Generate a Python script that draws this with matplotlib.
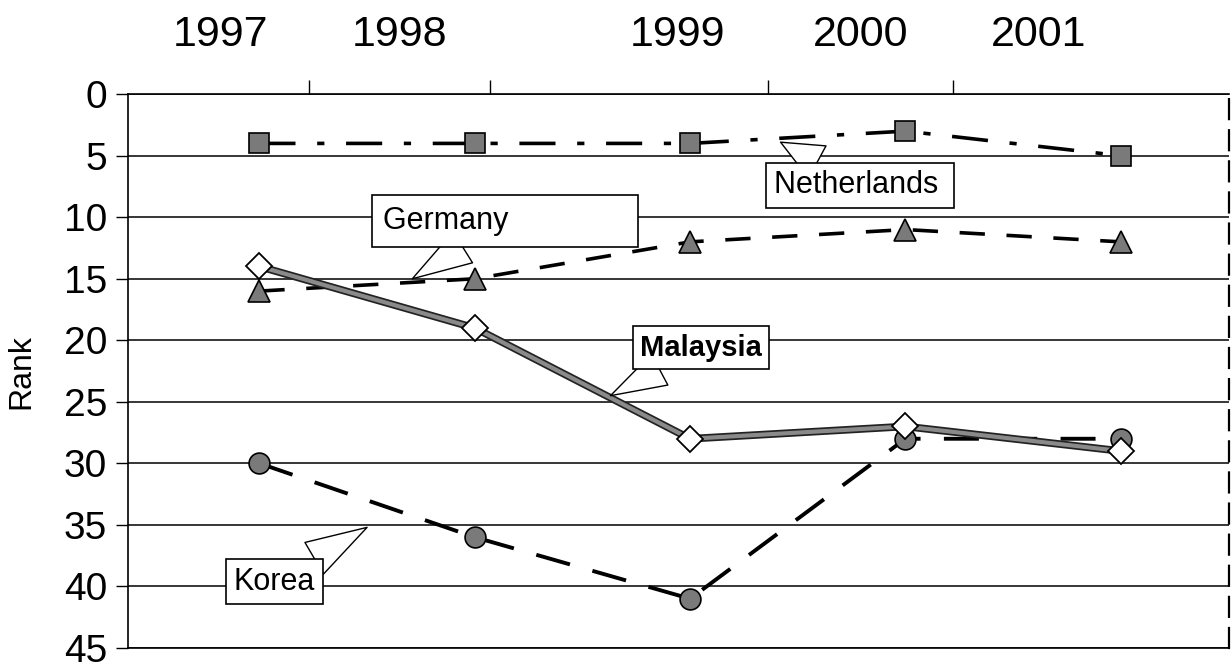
import matplotlib.pyplot as plt
import matplotlib.patheffects as pe
import numpy as np

plt.rcParams['font.family'] = ['Liberation Sans', 'DejaVu Sans']

years = ['1997', '1998', '1999', '2000', '2001']
netherlands = [4, 4, 4, 3, 5]
germany = [16, 15, 12, 11, 12]
malaysia = [14, 19, 28, 27, 29]
korea = [30, 36, 41, 28, 28]

# where the year labels and top ticks sit (they are not centred on the points)
year_label_x = [-0.18, 0.65, 1.94, 2.79, 3.62]
top_tick_x = [0.23, 1.07, 2.36, 3.22]

fig = plt.figure(figsize=(12.31, 6.68), dpi=100)
ax = fig.add_axes([0.104, 0.03, 0.894, 0.829])

x = np.arange(len(years))
mfill = '#7a7a7a'

ax.plot(x, netherlands, color='black', lw=2.6, dashes=(10, 6, 2, 6),
        marker='s', ms=15, mfc=mfill, mec='black', mew=1.2, zorder=4)
ax.plot(x, germany, color='black', lw=2.6, dashes=(7, 6),
        marker='^', ms=16, mfc=mfill, mec='black', mew=1.2, zorder=4)
ax.plot(x, korea, color='black', lw=2.8, dashes=(9, 6),
        marker='o', ms=15, mfc=mfill, mec='black', mew=1.2, zorder=4)
ax.plot(x, malaysia, color='#8a8a8a', lw=3,
        path_effects=[pe.Stroke(linewidth=5.5, foreground='#222222'), pe.Normal()],
        zorder=5)
ax.plot(x, malaysia, ls='none', marker='D', ms=13, mfc='white', mec='black',
        mew=1.3, zorder=6)

ax.set_ylim(45, 0)
ax.set_xlim(-0.61, 4.5)
ax.set_yticks(np.arange(0, 46, 5))
ax.tick_params(axis='y', labelsize=28, length=9, width=1, pad=6, direction='out')
ax.yaxis.grid(True, color='black', lw=1.1)
ax.set_axisbelow(True)
ax.set_ylabel('Rank', fontsize=23, labelpad=20)

ax.xaxis.tick_top()
ax.set_xticks(year_label_x)
ax.set_xticklabels(years, fontsize=31)
ax.tick_params(axis='x', which='major', length=0, pad=28)
ax.set_xticks(top_tick_x, minor=True)
ax.tick_params(axis='x', which='minor', length=10, width=1, direction='out')

for s in ['left', 'top', 'bottom']:
    ax.spines[s].set_linewidth(1.2)
ax.spines['right'].set_linewidth(1.6)
ax.spines['right'].set_linestyle((0, (9, 5)))

box = dict(boxstyle='square,pad=0.25', fc='white', ec='black', lw=1.2)
arrow = dict(arrowstyle='wedge,tail_width=1.2,shrink_factor=0.5', fc='white',
             ec='black', lw=1.0, shrinkA=0, shrinkB=0)

ax.annotate('Netherlands ', xy=(2.42, 3.9), xytext=(2.79, 7.4), fontsize=22,
            ha='center', va='center', bbox=box, arrowprops=arrow, zorder=7)
# the Germany box is much wider than its word, text sits at the left
ax.annotate('Germany' + ' ' * 14, xy=(0.71, 15.0), xytext=(1.14, 10.3), fontsize=22,
            ha='center', va='center', bbox=dict(box, boxstyle='square,pad=0.35'),
            arrowprops=arrow, zorder=7)
ax.annotate('Malaysia', xy=(1.63, 24.5), xytext=(2.05, 20.6), fontsize=21,
            fontweight='bold', ha='center', va='center', bbox=box,
            arrowprops=arrow, zorder=7)
ax.annotate('Korea', xy=(0.50, 35.2), xytext=(0.07, 39.6), fontsize=22,
            ha='center', va='center', bbox=box, arrowprops=arrow, zorder=7)

fig.savefig('out.png', dpi=100)
